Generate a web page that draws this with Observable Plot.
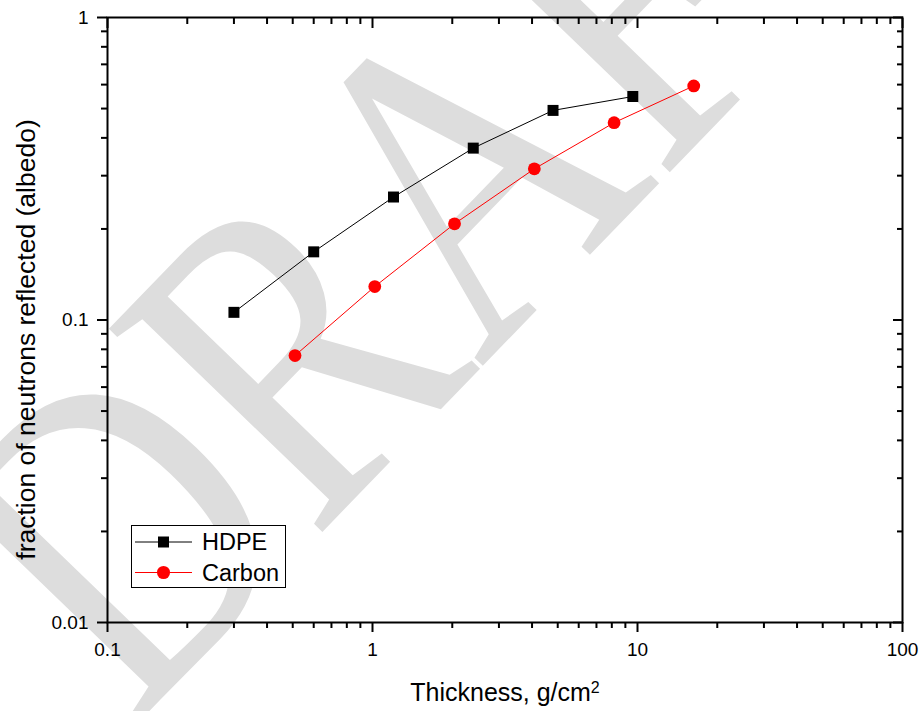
<!DOCTYPE html>
<html><head><meta charset="utf-8">
<script src="https://cdn.jsdelivr.net/npm/d3@7"></script>
<script src="https://cdn.jsdelivr.net/npm/@observablehq/plot@0.6"></script>
<style>
body{margin:0;background:#fff}
#chart{position:relative;width:924px;height:711px}
#legend{position:absolute;left:0;top:0}
</style>
</head><body><div id="chart"></div>
<script>
// ---- data ----
const hdpeThickness = [0.3, 0.6, 1.2, 2.4, 4.8, 9.6];
const hdpeAlbedo    = [0.106, 0.168, 0.255, 0.370, 0.493, 0.548];
const carbonThickness = [0.51, 1.02, 2.04, 4.08, 8.16, 16.3];
const carbonAlbedo    = [0.0763, 0.129, 0.208, 0.316, 0.449, 0.594];
const xMajorTicks = [0.1, 1, 10, 100];
const yMajorTicks = [0.01, 0.1, 1];
const seriesNames  = ["HDPE", "Carbon"];
const seriesColors = ["#000000", "#ff0000"];
const xTitle = "Thickness, g/cm";
const xTitleSup = "2";
const yTitle = "fraction of neutrons reflected (albedo)";
const watermarkText = "DRAFT";

const minorOf = majors => {
  const out = [];
  for (let i = 0; i < majors.length - 1; i++) for (let k = 2; k <= 9; k++) out.push(majors[i] * k);
  return out;
};
const xMinorTicks = minorOf(xMajorTicks);
const yMinorTicks = minorOf(yMajorTicks);

const hdpe = hdpeThickness.map((t, i) => ({series: "HDPE", t, a: hdpeAlbedo[i]}));
const carbon = carbonThickness.map((t, i) => ({series: "Carbon", t, a: carbonAlbedo[i]}));

const FONT = "Arial, 'Liberation Sans', sans-serif";
const blank = () => "";

// watermark drawn behind everything
const watermark = () => {
  const g = d3.create("svg:g");
  g.append("text")
    .attr("transform", "translate(133,728) rotate(-46) scale(0.8,1)")
    .attr("text-anchor", "start")
    .attr("font-family", "'Liberation Serif', 'Times New Roman', serif")
    .attr("font-size", 450)
    .attr("fill", "#dddddd")
    .text(watermarkText);
  return g.node();
};

const chart = Plot.plot({
  width: 924, height: 711,
  marginLeft: 107, marginRight: 22, marginTop: 17, marginBottom: 89,
  style: {fontFamily: FONT, fontSize: "19px", background: "transparent", color: "black", overflow: "visible"},
  x: {type: "log", domain: [0.1, 100]},
  y: {type: "log", domain: [0.01, 1]},
  marks: [
    watermark,
    Plot.line(hdpe, {x: "t", y: "a", stroke: seriesColors[0], strokeWidth: 1}),
    Plot.line(carbon, {x: "t", y: "a", stroke: seriesColors[1], strokeWidth: 1}),
    Plot.dot(hdpe, {x: "t", y: "a", symbol: "square", r: 6.2, fill: seriesColors[0], stroke: "none"}),
    Plot.dot(carbon, {x: "t", y: "a", symbol: "circle", r: 6.4, fill: seriesColors[1], stroke: "none"}),
    // bottom axis (outward)
    Plot.axisX(xMajorTicks, {anchor: "bottom", tickSize: 10, strokeWidth: 2, tickFormat: blank, label: null}),
    Plot.axisX(xMinorTicks, {anchor: "bottom", tickSize: 6, strokeWidth: 2, tickFormat: blank, label: null}),
    // top axis (inward)
    Plot.axisX(xMajorTicks, {anchor: "top", tickSize: 10, dy: 10, strokeWidth: 2, tickFormat: blank, label: null}),
    Plot.axisX(xMinorTicks, {anchor: "top", tickSize: 6, dy: 6, strokeWidth: 2, tickFormat: blank, label: null}),
    // left axis (outward)
    Plot.axisY(yMajorTicks, {anchor: "left", tickSize: 10, strokeWidth: 2, tickFormat: blank, label: null}),
    Plot.axisY(yMinorTicks, {anchor: "left", tickSize: 6, strokeWidth: 2, tickFormat: blank, label: null}),
    // right axis (inward)
    Plot.axisY(yMajorTicks, {anchor: "right", tickSize: 10, dx: -10, strokeWidth: 2, tickFormat: blank, label: null}),
    Plot.axisY(yMinorTicks, {anchor: "right", tickSize: 6, dx: -6, strokeWidth: 2, tickFormat: blank, label: null}),
    Plot.frame({stroke: "black", strokeWidth: 2}),
    // tick labels
    Plot.text(xMajorTicks, {x: d => d, text: d => String(d), frameAnchor: "bottom", lineAnchor: "top", dy: 20, fontSize: 19, fill: "black"}),
    Plot.text(yMajorTicks, {y: d => d, text: d => String(d), frameAnchor: "left", textAnchor: "end", lineAnchor: "middle", dx: -19, fontSize: 19, fill: "black"}),
    // axis titles
    Plot.text([xTitle], {text: d => d, frameAnchor: "bottom", textAnchor: "middle", lineAnchor: "bottom", dy: 78, fontSize: 25, fill: "black"}),
    Plot.text([yTitle], {text: d => d, frameAnchor: "left", textAnchor: "middle", lineAnchor: "middle", rotate: -90, dx: -80.5, dy: 19.5, fontSize: 26.5, fill: "black"})
  ]
});
document.getElementById("chart").appendChild(chart);

// superscript on the x title
d3.select(chart).selectAll("text").filter(function() { return this.textContent === xTitle; })
  .append("tspan").attr("dy", "-8").attr("font-size", 16).text(xTitleSup);

// legend overlay
const leg = d3.select("#chart").append("svg").attr("id", "legend").attr("width", 924).attr("height", 711);
leg.append("rect").attr("x", 131.5).attr("y", 525.5).attr("width", 154).attr("height", 62)
  .attr("fill", "white").attr("stroke", "black").attr("stroke-width", 1);
seriesNames.forEach((name, i) => {
  const y = 542 + i * 30.5;
  const row = leg.append("g").attr("transform", `translate(0,${y})`);
  row.append("line").attr("x1", 135).attr("x2", 192).attr("stroke", seriesColors[i]).attr("stroke-width", 1);
  row.append("path").attr("transform", "translate(163.5,0)")
    .attr("d", d3.symbol(i === 0 ? d3.symbolSquare : d3.symbolCircle, i === 0 ? 121 : 135)())
    .attr("fill", seriesColors[i]);
  row.append("text").attr("x", 202).attr("dy", "0.35em").attr("font-family", FONT).attr("font-size", 23.5).text(name);
});
</script>
</body></html>
